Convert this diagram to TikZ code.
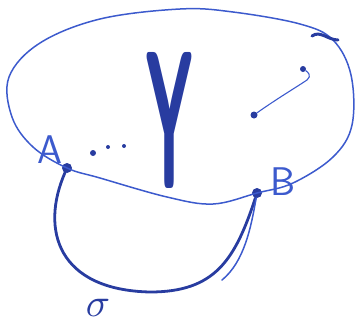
\documentclass[tikz,border=0pt]{standalone}
\usepackage{xcolor}
\usepackage{graphicx}
\usepackage{tikz}
\definecolor{inkblue}{RGB}{60,90,205}
\definecolor{inkdark}{RGB}{40,60,160}

\begin{document}
\begin{tikzpicture}[
  x=1pt,y=-1pt,
  every node/.style={text=inkblue},
  ink/.style={draw=inkblue,line width=1.5pt,line cap=round,line join=round},
  thickink/.style={draw=inkdark,line width=2.8pt,line cap=round,line join=round},
  dotnode/.style={circle,fill=inkdark,inner sep=0pt,minimum size=#1},
  dotnode/.default=10pt,
  letter/.style={font=\sffamily\fontsize{40}{40}\selectfont}
]
\useasboundingbox (0,0) rectangle (358,325);
% points on the boundary
\node[dotnode] (A) at (67,168) {};
\node[dotnode] (B) at (257,193) {};
\node[letter] (labA) at (50,150) {A};
\node[letter] (labB) at (283,182) {B};
% the region
\draw[ink] plot[smooth cycle,tension=0.6] coordinates {(67,168) (100,178) (167,197) (213,204) (257,193)
  (293,183) (333,157) (352,125) (351,75) (333,40) (300,24) (233,12) (180,9) (100,19) (40,43) (9,77)
  (12,117) (33,147)};
\draw[thickink,line width=3pt] (312,36) .. controls (320,30) and (328,40) .. (338,40);
% big letter
\node[inner sep=0pt,text=inkdark] (Y) at (170,120) {\resizebox{48pt}{136pt}{\sffamily\bfseries Y}};
% dots near A
\node[dotnode=6pt] (d1) at (93,153) {};
\node[dotnode=4pt] (d2) at (108,147) {};
\node[dotnode=4pt] (d3) at (124,146) {};
% point with its little path
\node[dotnode=7pt] (p) at (254,115) {};
\node[dotnode=6pt] (q) at (303,69) {};
\draw[ink,line width=1.1pt] (p) .. controls (275,100) and (295,88) .. (307,80)
  .. controls (312,76) and (308,72) .. (q);
% the curve sigma
\draw[thickink] (A) .. controls (40,230) and (58,290) .. (150,292)
  .. controls (215,292) and (235,260) .. (B);
\draw[ink] (B) .. controls (251,228) and (244,262) .. (222,280);
\node[text=inkdark,inner sep=0pt] (sigma) at (98,308) {\scalebox{4}{$\sigma$}};
\end{tikzpicture}
\end{document}
